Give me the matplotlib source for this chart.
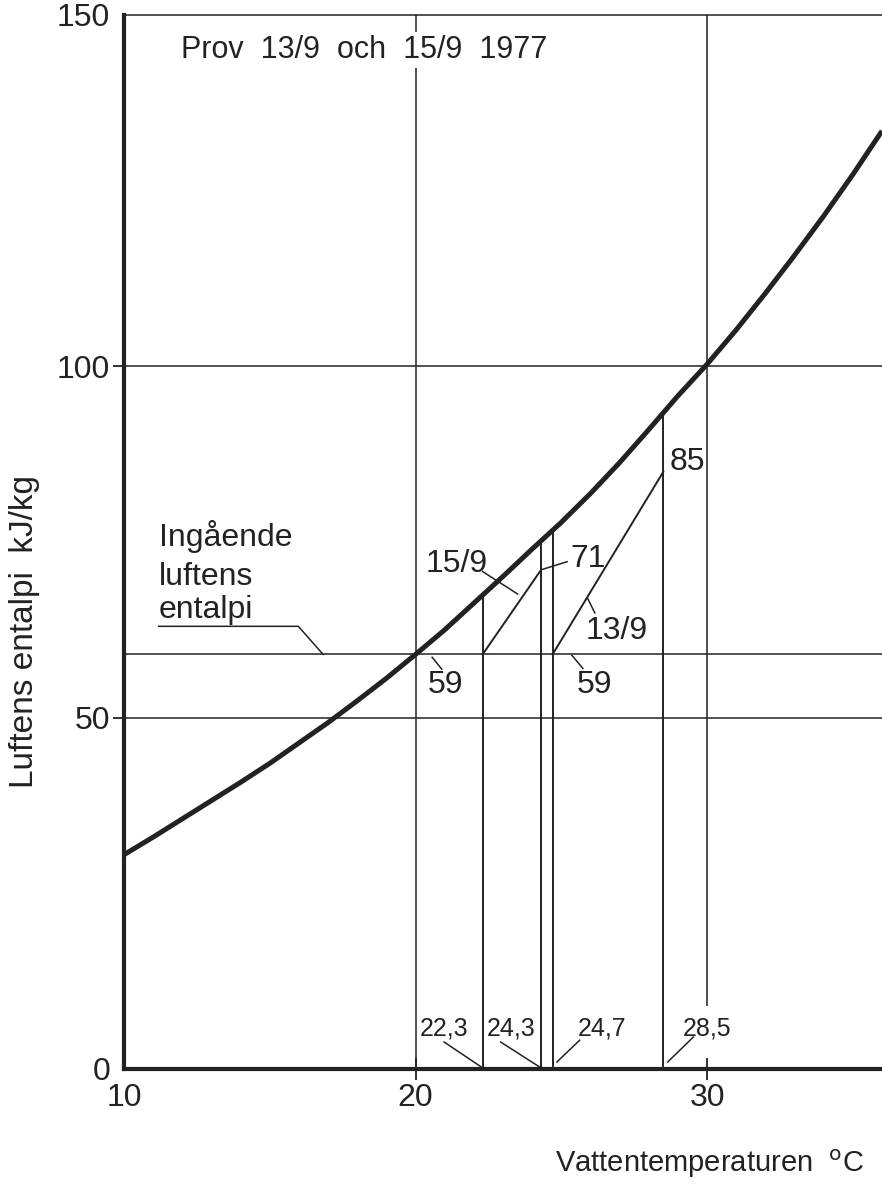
import numpy as np
import matplotlib
matplotlib.use("Agg")
import matplotlib.pyplot as plt

# Saturated-air enthalpy (kJ/kg) as a function of water temperature (°C)
temp_c = [10, 11, 12, 13, 14, 15, 16, 17, 18, 19, 20, 21, 22, 23,
          24, 25, 26, 27, 28, 29, 30, 31, 32, 33, 34, 35, 36]
enthalpy_sat = [30.5, 33.0, 35.6, 38.2, 40.8, 43.5, 46.4, 49.3, 52.4,
                55.6, 59.0, 62.5, 66.3, 70.1, 74.0, 77.8, 81.9, 86.3,
                91.0, 95.8, 100.3, 105.2, 110.4, 115.8, 121.4, 127.3, 133.5]

meas_temp = [22.3, 24.3, 24.7, 28.5]
meas_labels = ["22,3", "24,3", "24,7", "28,5"]

# Enthalpy of the incoming air
inlet_enthalpy = 59

# Test runs: water temperature in/out and leaving-air enthalpy
run_names = ["15/9", "13/9"]
run_t_in = [22.3, 24.7]
run_t_out = [24.3, 28.5]
run_h_out = [71, 85]

x_ticks = [10, 20, 30]
y_ticks = [0, 50, 100, 150]

ink = "#222222"
plt.rcParams["font.family"] = ["Liberation Sans", "DejaVu Sans"]

W, H = 882, 1191
fig = plt.figure(figsize=(W / 100, H / 100), dpi=100)
ax = fig.add_axes([124 / W, 122 / H, 758 / W, 1054 / H])
ax.set_xlim(10, 36)
ax.set_ylim(0, 150)

# Frame
for side in ("left", "bottom"):
    ax.spines[side].set_linewidth(3.0)
    ax.spines[side].set_color(ink)
ax.spines["top"].set_linewidth(1.1)
ax.spines["top"].set_color(ink)
ax.spines["right"].set_visible(False)

# Grid lines
grid_kw = dict(color=ink, lw=1.1, zorder=1)
for yv in (50, 100):
    ax.axhline(yv, **grid_kw)
ax.axhline(inlet_enthalpy, **grid_kw)
ax.vlines(20, 0, 150, **grid_kw)
ax.vlines(30, 9, 150, **grid_kw)

# Saturation curve
ax.plot(temp_c, enthalpy_sat, color=ink, lw=3.6, zorder=4,
        solid_capstyle="butt")

# Verticals from the axis up to the curve
line_kw = dict(color=ink, lw=1.4, zorder=3)
for t in meas_temp:
    ax.plot([t, t], [0, np.interp(t, temp_c, enthalpy_sat)], **line_kw)

# Test-run lines from inlet enthalpy to leaving enthalpy
for t0, t1, h1 in zip(run_t_in, run_t_out, run_h_out):
    ax.plot([t0, t1], [inlet_enthalpy, h1], **line_kw)

# Ticks
ax.set_xticks(x_ticks)
ax.set_yticks(y_ticks)
ax.tick_params(axis="both", which="major", length=0, labelsize=23,
               colors=ink)
ax.tick_params(axis="x", which="major", pad=10)
ax.tick_params(axis="y", which="major", pad=10)
ax.xaxis.remove_overlapping_locs = False
ax.yaxis.remove_overlapping_locs = False
ax.set_xticks([20, 30], minor=True)
ax.set_yticks([50, 100], minor=True)
ax.tick_params(axis="x", which="minor", direction="inout", length=16,
               width=1.3, color=ink)
ax.tick_params(axis="y", which="minor", direction="out", length=8,
               width=1.3, color=ink)

lab = dict(color=ink, fontsize=23, zorder=6)
lead = dict(color=ink, lw=1.1, zorder=5)

# Title inside the frame
ax.text(11.94, 145.0, "Prov  13/9  och  15/9  1977", fontsize=22,
        color=ink, va="center", ha="left", zorder=6,
        bbox=dict(facecolor="white", edgecolor="none", pad=2))

# Incoming-air annotation
ax.text(11.19, 74.5, "Ingående", ha="left", va="baseline", **lab)
ax.text(11.19, 68.85, "luftens", ha="left", va="baseline", **lab)
ax.text(11.19, 64.15, "entalpi", ha="left", va="baseline", **lab)
ax.plot([11.19, 15.98, 16.83], [63.0, 63.0, inlet_enthalpy], **lead)

# Inlet enthalpy labels
ax.text(20.43, 53.5, str(inlet_enthalpy), ha="left", va="baseline", **lab)
ax.plot([20.57, 20.9], [58.6, 56.9], **lead)
ax.text(25.53, 53.5, str(inlet_enthalpy), ha="left", va="baseline", **lab)
ax.plot([25.36, 25.74], [58.9, 57.0], **lead)

# Run labels
ax.text(20.35, 70.7, run_names[0], ha="left", va="baseline", **lab)
ax.plot([22.3, 23.5], [70.8, 67.6], **lead)
ax.text(25.82, 61.2, run_names[1], ha="left", va="baseline", **lab)
ax.plot([25.9, 26.15], [67.0, 64.9], **lead)

# Leaving enthalpy labels
ax.text(25.3, 71.4, str(run_h_out[0]), ha="left", va="baseline", **lab)
ax.plot([24.35, 25.2], [71.1, 72.2], **lead)
ax.text(28.7, 85.2, str(run_h_out[1]), ha="left", va="baseline", **lab)

# Temperature labels at the base
small = dict(color=ink, fontsize=18, zorder=6)
lx = [20.15, 22.45, 25.55, 29.15]
leader_from = [(20.98, 3.84), (22.92, 3.84), (25.63, 4.1), (29.53, 4.55)]
leader_to = [(meas_temp[0] - 0.05, 0.3), (meas_temp[1] - 0.05, 0.3),
             (meas_temp[2] + 0.15, 1.0), (meas_temp[3] + 0.15, 1.0)]
for t, s, x0, p0, p1 in zip(meas_temp, meas_labels, lx, leader_from, leader_to):
    ax.text(x0, 4.7, s, ha="left", va="baseline", **small)
    ax.plot([p0[0], p1[0]], [p0[1], p1[1]], **lead)

# Axis titles
fig.text(25 / W, 1 - 632 / H, "Luftens entalpi  kJ/kg", rotation=90,
         ha="center", va="center", fontsize=24, color=ink)
fig.text(555 / W, 1 - 1172 / H, "Vattentemperaturen  $^{\\mathrm{o}}$C",
         ha="left", va="baseline", fontsize=21, color=ink)

fig.savefig("out.png", dpi=100, facecolor="white")
